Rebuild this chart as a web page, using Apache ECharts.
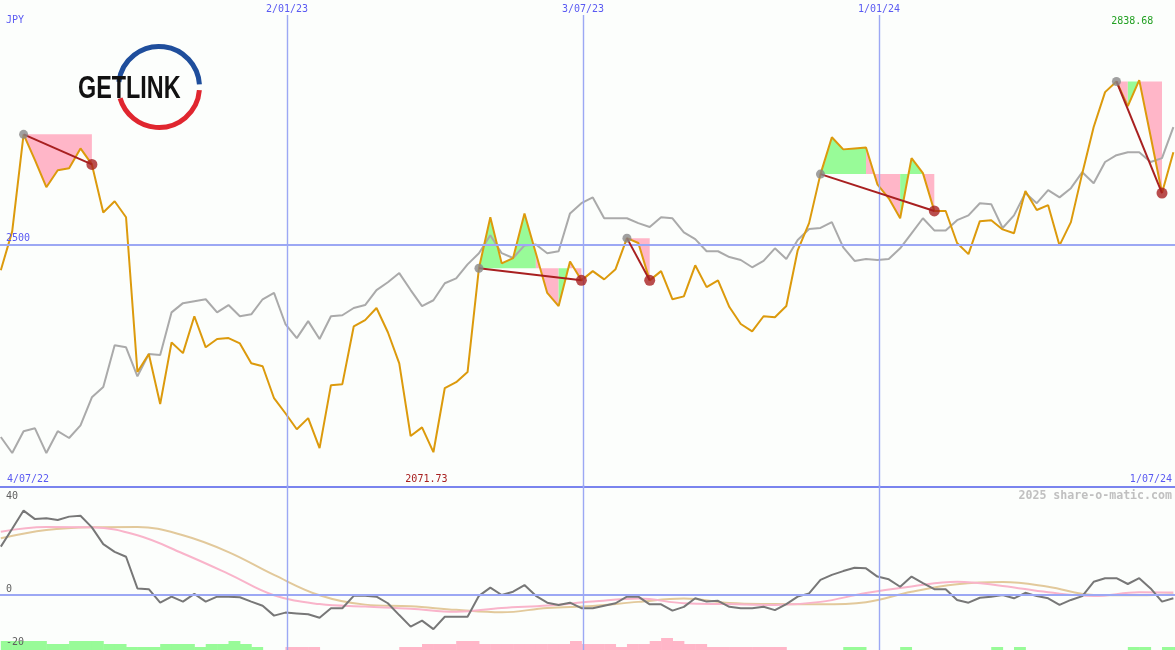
<!DOCTYPE html>
<html>
<head>
<meta charset="utf-8">
<script src="https://cdn.jsdelivr.net/npm/echarts@6/dist/echarts.min.js"></script>
<style>
html,body{margin:0;padding:0;background:#fcfefc;}
#chart{width:1175px;height:650px;}
</style>
</head>
<body>
<div id="chart"></div>
<script>
// ------------------ data ------------------
const firstWeek = [2022, 6, 10];          // first weekly point (UTC year, month0, day)
const rangeStart = [2022, 6, 9, 12];
const rangeEnd = [2024, 6, 1];
const monthMarks = [[2023, 0, 2], [2023, 6, 3], [2024, 0, 1]];
const monthLabels = ['2/01/23', '3/07/23', '1/01/24'];
const rangeLabels = ['4/07/22', '1/07/24'];
const currency = 'JPY';
const watermark = '2025 share-o-matic.com';
const logoText = 'GETLINK';
const priceTicks = [2500];
const oscTicks = [40, 0, -20];

const price = [
  2447, 2527, 2727, 2674, 2618, 2653, 2657, 2698, 2665, 2566,
  2589, 2556, 2237, 2274, 2171, 2298, 2276, 2352, 2288, 2305,
  2307, 2296, 2255, 2249, 2183, 2152, 2119, 2142, 2080, 2210,
  2212, 2331, 2344, 2369, 2319, 2255, 2105, 2123, 2071.73, 2204,
  2216, 2237, 2451, 2556, 2461, 2472, 2564, 2482, 2400, 2373,
  2465, 2426, 2445, 2428, 2449, 2513, 2503, 2426, 2445, 2387,
  2393, 2457, 2412, 2426, 2371, 2336, 2321, 2352, 2350, 2373,
  2488, 2544, 2645, 2721, 2696, 2698, 2700, 2624, 2595, 2554,
  2678, 2647, 2569, 2569, 2503, 2480, 2548, 2550, 2531, 2523,
  2610, 2571, 2581, 2498, 2546, 2647, 2742, 2814, 2836, 2785,
  2838.68, 2723, 2606, 2690
];
const compare = [
  2103, 2070, 2115, 2121, 2070, 2115, 2101, 2127, 2185, 2206,
  2292, 2288, 2228, 2274, 2272, 2360, 2379, 2383, 2387, 2360,
  2375, 2352, 2356, 2387, 2400, 2336, 2307, 2342, 2305, 2352,
  2354, 2369, 2375, 2406, 2422, 2441, 2406, 2373, 2385, 2420,
  2430, 2459, 2482, 2519, 2482, 2472, 2498, 2500, 2482, 2486,
  2564, 2585, 2597, 2554, 2554, 2554, 2544, 2536, 2556, 2554,
  2525, 2511, 2486, 2486, 2474, 2468, 2453, 2466, 2492, 2470,
  2509, 2532, 2534, 2546, 2494, 2466, 2470, 2468, 2470, 2492,
  2523, 2554, 2529, 2529, 2550, 2560, 2585, 2583, 2534, 2560,
  2606, 2585, 2612, 2597, 2616, 2649, 2626, 2670, 2684, 2690,
  2690, 2670, 2678, 2742
];
const oscillator = [
  17.6, 24.1, 30.7, 27.6, 27.9, 27.3, 28.5, 28.8, 24.6, 18.5,
  15.7, 13.9, 2.4, 2.1, -2.8, -0.6, -2.4, 0.4, -2.4, -0.6,
  -0.6, -0.8, -2.4, -3.9, -7.5, -6.4, -6.7, -7.0, -8.3, -4.8,
  -4.8, -0.3, -0.3, -0.6, -3.0, -7.3, -11.5, -9.3, -12.4, -7.9,
  -7.9, -7.9, -0.3, 2.7, 0, 1.2, 3.6, -0.3, -2.8, -3.6,
  -2.8, -4.8, -4.8, -3.9, -3.0, -0.6, -0.6, -3.4, -3.4, -5.7,
  -4.3, -1.2, -2.4, -2.1, -4.3, -4.8, -4.8, -4.3, -5.5, -3.3,
  -0.6, 0.6, 5.5, 7.3, 8.7, 9.9, 9.7, 6.7, 5.7, 3.0,
  6.7, 4.3, 2.1, 2.1, -1.8, -2.8, -1.0, -0.6, 0, -1.2,
  0.8, -0.4, -1.2, -3.6, -1.8, -0.4, 4.8, 6.1, 6.1, 4.0,
  6.1, 2.4, -2.4, -1.2
];
const smoothIdx = [0, 4, 8, 12, 16, 20, 24, 28, 32, 36, 40, 44, 48, 52, 56, 60, 64, 68, 72, 76, 80, 84, 88, 92, 96, 100, 103];
const pinkSignal = [23.0, 24.7, 24.6, 21.7, 15.1, 7.7, -0.1, -3.3, -4.2, -5.0, -6.1, -4.7, -3.8, -2.4, -1.3, -3.0, -3.3, -3.6, -2.5, 0.7, 3.1, 4.8, 3.3, 1.0, -0.4, 1.0, 0.9];
const tanSignal = [20.6, 23.6, 24.6, 24.7, 21.7, 15.6, 7.3, -0.1, -3.5, -4.1, -5.4, -6.3, -4.7, -4.0, -2.5, -1.3, -2.9, -3.3, -3.4, -2.6, 1.2, 3.9, 4.7, 3.0, 0, -0.1, 0.3];
const histogram = [
  3, 3, 3, 3, 2, 2, 3, 3, 3, 2,
  2, 1, 1, 1, 2, 2, 2, 1, 2, 2,
  3, 2, 1, 0, 0, -1, -1, -1, 0, 0,
  0, 0, 0, 0, 0, -1, -1, -2, -2, -2,
  -3, -3, -2, -2, -2, -2, -2, -2, -2, -2,
  -3, -2, -2, -2, -1, -2, -2, -3, -4, -3,
  -2, -2, -1, -1, -1, -1, -1, -1, -1, 0,
  0, 0, 0, 0, 1, 1, 0, 0, 0, 1,
  0, 0, 0, 0, 0, 0, 0, 1, 0, 1,
  0, 0, 0, 0, 0, 0, 0, 0, 0, 1,
  1, 0, 1, 1
];
const episodes = [[2, 8], [42, 51], [55, 57], [72, 82], [98, 102]];

// ------------------ build ------------------
const DAY = 86400000;
const utc = a => Date.UTC.apply(null, a);
const t0 = utc(firstWeek);
const times = price.map((_, k) => t0 + k * 7 * DAY);
const xMin = utc(rangeStart), xMax = utc(rangeEnd);

const C = {
  bg: '#fcfefc', orange: '#dc9a0c', gray: '#aaaaaa', osc: '#777777',
  pink: '#f9b4ca', tan: '#e2c99b', fillPink: '#ffb6c8', fillGreen: '#98fb98',
  grid: '#9ca8f4', sep: '#7a84ee', txt: '#5a5af2', trend: '#a82020'
};
const mono = 'DejaVu Sans Mono';

// runs of consecutive segments of the same colour inside each episode
const fillRuns = [];
episodes.forEach(([s, e]) => {
  const lvl = price[s];
  let a = s;
  for (let k = s; k < e; k++) {
    const up = price[k + 1] >= lvl;
    const last = k + 1 === e;
    if (last || (price[k + 2] >= lvl) !== up) {
      fillRuns.push([times[a], times[k + 1], lvl, up ? 1 : 0, a, k + 1]);
      a = k + 1;
    }
  }
});
const trendSeries = episodes.map(([s, e]) => ({
  type: 'line', xAxisIndex: 0, yAxisIndex: 0, z: 6, silent: true,
  symbol: 'none', lineStyle: { color: C.trend, width: 2 },
  data: [[times[s], price[s]], [times[e], price[e]]]
}));
const histData = histogram.map((v, k) => [times[k], times[k] + 7 * DAY, v]);

const vLineStyle = { color: C.grid, width: 1.4, type: 'solid' };
const vLinesTop = monthMarks.map((m, i) => ({
  xAxis: utc(m), lineStyle: vLineStyle,
  label: { show: true, position: 'end', distance: 1, formatter: monthLabels[i],
    color: C.txt, fontFamily: mono, fontSize: 10 }
}));
const vLinesBottom = monthMarks.map(m => ({ xAxis: utc(m), lineStyle: vLineStyle, label: { show: false } }));

const chart = echarts.init(document.getElementById('chart'), null, { renderer: 'canvas' });
chart.setOption({
  animation: false,
  backgroundColor: C.bg,
  grid: [
    { left: 0, right: 0, top: 15, height: 472 },
    { left: 0, right: 0, top: 485, height: 165 }
  ],
  xAxis: [
    { gridIndex: 0, type: 'time', min: xMin, max: xMax,
      axisLine: { show: true, lineStyle: { color: C.sep, width: 2 } },
      axisTick: { show: false }, axisLabel: { show: false }, splitLine: { show: false } },
    { gridIndex: 1, type: 'time', min: xMin, max: xMax, show: false }
  ],
  yAxis: [
    { gridIndex: 0, type: 'value', min: 2000, max: 2973, show: false },
    { gridIndex: 1, type: 'value', min: -20, max: 40, interval: 20, z: 20,
      axisLine: { show: false }, axisTick: { show: false }, splitLine: { show: false },
      axisLabel: {
        inside: true, margin: 6, showMinLabel: true, showMaxLabel: true,
        formatter: v => v === oscTicks[0] ? '{t|' + v + '}' : v === oscTicks[1] ? '{m|' + v + '}' : v === oscTicks[2] ? '{b|' + v + '}' : '',
        rich: {
          t: { padding: [22, 0, 0, 0], color: '#606060', fontFamily: mono, fontSize: 10 },
          m: { padding: [0, 0, 12, 0], color: '#606060', fontFamily: mono, fontSize: 10 },
          b: { padding: [0, 0, 15, 0], color: '#606060', fontFamily: mono, fontSize: 10 }
        }
      } },
    { gridIndex: 1, type: 'value', min: 0, max: 55, show: false }
  ],
  series: [
    { // shaded areas between the start level and the price line
      type: 'custom', xAxisIndex: 0, yAxisIndex: 0, z: 1, silent: true,
      encode: { x: [0, 1], y: 2 },
      data: fillRuns,
      renderItem: (params, api) => {
        const lvl = api.value(2);
        const a = api.value(4), b = api.value(5);
        const pts = [api.coord([times[a], lvl])];
        for (let j = a; j <= b; j++) pts.push(api.coord([times[j], price[j]]));
        pts.push(api.coord([times[b], lvl]));
        return { type: 'polygon', shape: { points: pts },
          style: { fill: api.value(3) ? C.fillGreen : C.fillPink, stroke: null } };
      }
    },
    { // comparison line
      type: 'line', xAxisIndex: 0, yAxisIndex: 0, z: 3, silent: true,
      symbol: 'none', lineStyle: { color: C.gray, width: 2 },
      data: compare.map((v, k) => [times[k], v]),
      markLine: {
        silent: true, symbol: 'none', animation: false,
        lineStyle: vLineStyle,
        data: vLinesTop.concat(priceTicks.map(v => ({
          yAxis: v, lineStyle: { color: C.grid, width: 2, type: 'solid' },
          label: { show: true, position: 'insideStartTop', distance: 1, padding: [0, 0, 0, 5], formatter: String(v),
            color: C.txt, fontFamily: mono, fontSize: 10 }
        })))
      }
    },
    { // price line
      type: 'line', xAxisIndex: 0, yAxisIndex: 0, z: 4, silent: true,
      symbol: 'none', lineStyle: { color: C.orange, width: 2 },
      data: price.map((v, k) => [times[k], v]),
      markPoint: {
        silent: true, symbol: 'circle', symbolSize: 1, itemStyle: { color: 'rgba(0,0,0,0)' },
        data: [
          { type: 'max', valueIndex: 1, label: { show: true, position: 'inside', offset: [-7, -59],
            formatter: p => p.value.toFixed(2), color: '#22a022', fontFamily: mono, fontSize: 10 } },
          { type: 'min', valueIndex: 1, label: { show: true, position: 'inside', offset: [-7, 27],
            formatter: p => p.value.toFixed(2), color: '#a82020', fontFamily: mono, fontSize: 10 } }
        ]
      }
    },
    ...trendSeries,
    { type: 'scatter', xAxisIndex: 0, yAxisIndex: 0, z: 7, silent: true,
      symbolSize: 9, itemStyle: { color: '#888888' },
      data: episodes.map(([s]) => [times[s], price[s]]) },
    { type: 'scatter', xAxisIndex: 0, yAxisIndex: 0, z: 7, silent: true,
      symbolSize: 11, itemStyle: { color: C.trend },
      data: episodes.map(([, e]) => [times[e], price[e]]) },

    // ---- lower panel ----
    { type: 'custom', xAxisIndex: 1, yAxisIndex: 2, z: 1, silent: true,
      encode: { x: [0, 1], y: 2 },
      data: histData,
      renderItem: (params, api) => {
        const v = api.value(2);
        if (!v) return null;
        const a = api.coord([api.value(0), Math.abs(v)]);
        const b = api.coord([api.value(1), 0]);
        return { type: 'rect', shape: { x: a[0], y: a[1], width: b[0] - a[0] + 0.5, height: b[1] - a[1] },
          style: { fill: v > 0 ? C.fillGreen : C.fillPink } };
      } },
    { type: 'line', xAxisIndex: 1, yAxisIndex: 1, z: 2, silent: true, smooth: 0.4,
      symbol: 'none', lineStyle: { color: C.tan, width: 2 },
      data: smoothIdx.map((k, i) => [times[k], tanSignal[i]]) },
    { type: 'line', xAxisIndex: 1, yAxisIndex: 1, z: 2, silent: true, smooth: 0.4,
      symbol: 'none', lineStyle: { color: C.pink, width: 2 },
      data: smoothIdx.map((k, i) => [times[k], pinkSignal[i]]) },
    { type: 'line', xAxisIndex: 1, yAxisIndex: 1, z: 3, silent: true,
      symbol: 'none', lineStyle: { color: C.osc, width: 2 },
      data: oscillator.map((v, k) => [times[k], v]),
      markLine: {
        silent: true, symbol: 'none', animation: false,
        lineStyle: vLineStyle,
        data: vLinesBottom.concat([{ yAxis: 0, lineStyle: { color: C.grid, width: 2, type: 'solid' }, label: { show: false } }])
      } }
  ],
  graphic: [
    { type: 'arc', shape: { cx: 159, cy: 87, r: 40.5, startAngle: Math.PI * 1.04, endAngle: Math.PI * 1.98, clockwise: true },
      style: { stroke: '#1f4e9c', lineWidth: 5, fill: null }, z: 10 },
    { type: 'arc', shape: { cx: 159, cy: 87, r: 40.5, startAngle: Math.PI * 0.025, endAngle: Math.PI * 0.91, clockwise: true },
      style: { stroke: '#e0262f', lineWidth: 5, fill: null }, z: 10 },
    { type: 'text', x: 78, y: 89, scaleX: 0.73, z: 11,
      style: { text: logoText, fill: '#111111', font: 'bold 32px "Liberation Sans"', align: 'left', verticalAlign: 'middle' } },
    { type: 'text', x: 6, y: 20, z: 11,
      style: { text: currency, fill: C.txt, font: '10px "DejaVu Sans Mono"', align: 'left', verticalAlign: 'middle' } },
    { type: 'text', x: 7, y: 479, z: 11,
      style: { text: rangeLabels[0], fill: C.txt, font: '10px "DejaVu Sans Mono"', align: 'left', verticalAlign: 'middle' } },
    { type: 'text', x: 1172, y: 479, z: 11,
      style: { text: rangeLabels[1], fill: C.txt, font: '10px "DejaVu Sans Mono"', align: 'right', verticalAlign: 'middle' } },
    { type: 'text', x: 1172, y: 496, z: 11,
      style: { text: watermark, fill: '#c0c0c0', font: 'bold 11.6px "DejaVu Sans Mono"', align: 'right', verticalAlign: 'middle' } }
  ]
});
</script>
</body>
</html>
